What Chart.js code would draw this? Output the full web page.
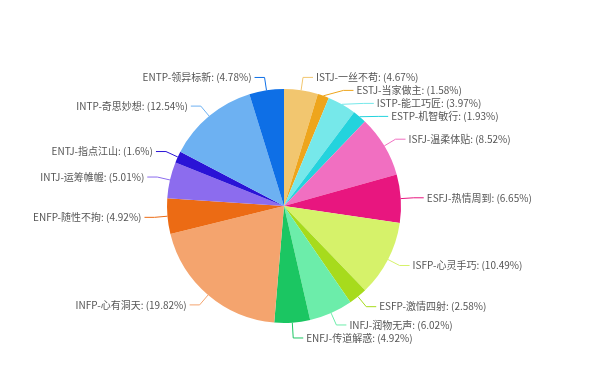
<!DOCTYPE html>
<html>
<head>
<meta charset="utf-8">
<script src="https://cdn.jsdelivr.net/npm/chart.js@4/dist/chart.umd.min.js"></script>
<style>
  html, body { margin: 0; padding: 0; background: #fff; }
  #wrap { width: 599px; height: 390px; }
</style>
</head>
<body>
<div id="wrap"><canvas id="mbtiChart"></canvas></div>
<script>
// Datos del gráfico
const types = ['ISTJ', 'ESTJ', 'ISTP', 'ESTP', 'ISFJ', 'ESFJ', 'ISFP', 'ESFP',
  'INFJ', 'ENFJ', 'INFP', 'ENFP', 'INTJ', 'ENTJ', 'INTP', 'ENTP'];
const names = ['一丝不苟', '当家做主', '能工巧匠', '机智敏行', '温柔体贴', '热情周到', '心灵手巧', '激情四射',
  '润物无声', '传道解惑', '心有洞天', '随性不拘', '运筹帷幄', '指点江山', '奇思妙想', '领异标新'];
const percents = [4.67, 1.58, 3.97, 1.93, 8.52, 6.65, 10.49, 2.58,
  6.02, 4.92, 19.82, 4.92, 5.01, 1.6, 12.54, 4.78];
const colors = ['#F2C66F', '#EEA51C', '#76E8EA', '#24D3DD', '#F16FC1', '#E8167F', '#D6F26A', '#A7DB1C',
  '#6CEDAA', '#1BC662', '#F4A46E', '#EC6B14', '#8C6CEE', '#2A13D6', '#6DB1F2', '#0E6FE6'];

const labels = types.map((t, i) => t + '-' + names[i]);

// Etiquetas con líneas guía (estilo echarts)
const leaderLabels = {
  id: 'leaderLabels',
  afterDatasetsDraw(chart) {
    const ctx = chart.ctx;
    const meta = chart.getDatasetMeta(0);
    const len1 = 13, len2 = 10, gap = 3, minGap = 13;
    const items = [];
    meta.data.forEach((arc, i) => {
      const cx = arc.x, cy = arc.y, r = arc.outerRadius;
      const mid = (arc.startAngle + arc.endAngle) / 2;
      const cos = Math.cos(mid), sin = Math.sin(mid);
      items.push({
        i, cx, cy, r,
        x0: cx + r * cos, y0: cy + r * sin,
        x1: cx + (r + len1) * cos, y1: cy + (r + len1) * sin,
        right: cos >= 0,
        y: cy + (r + len1) * sin
      });
    });

    // Evitar solapamiento por lado
    [true, false].forEach(side => {
      const list = items.filter(it => it.right === side).sort((a, b) => a.y - b.y);
      for (let k = 1; k < list.length; k++) {
        if (list[k].y - list[k - 1].y < minGap) list[k].y = list[k - 1].y + minGap;
      }
      const maxY = chart.height - 10;
      for (let k = list.length - 1; k >= 0; k--) {
        const lim = k === list.length - 1 ? maxY : list[k + 1].y - minGap;
        if (list[k].y > lim) list[k].y = lim;
      }
    });

    ctx.save();
    ctx.font = '10px "Noto Sans CJK SC", "Noto Sans", sans-serif';
    ctx.textBaseline = 'middle';
    items.forEach(it => {
      const R1 = it.r + len1;
      const dy = it.y - it.cy;
      let xb = it.x1;
      if (Math.abs(it.y - it.y1) > 0.5 && Math.abs(dy) < R1) {
        xb = it.cx + (it.right ? 1 : -1) * Math.sqrt(R1 * R1 - dy * dy);
      }
      const dir = it.right ? 1 : -1;
      const xe = xb + dir * len2;
      ctx.strokeStyle = colors[it.i];
      ctx.lineWidth = 1;
      ctx.beginPath();
      ctx.moveTo(it.x0, it.y0);
      ctx.lineTo(xb, it.y);
      ctx.lineTo(xe, it.y);
      ctx.stroke();
      ctx.fillStyle = '#555';
      ctx.textAlign = it.right ? 'left' : 'right';
      ctx.fillText(labels[it.i] + ': (' + percents[it.i] + '%)', xe + dir * gap, it.y);
    });
    ctx.restore();
  }
};

const chart = new Chart(document.getElementById('mbtiChart'), {
  type: 'pie',
  data: {
    labels: labels,
    datasets: [{
      data: percents,
      backgroundColor: colors,
      borderWidth: 0
    }]
  },
  options: {
    responsive: true,
    maintainAspectRatio: false,
    animation: false,
    layout: { padding: { top: 89, bottom: 67, left: 167, right: 198 } },
    plugins: {
      legend: { display: false },
      tooltip: { enabled: false }
    }
  },
  plugins: [leaderLabels]
});
</script>
</body>
</html>
